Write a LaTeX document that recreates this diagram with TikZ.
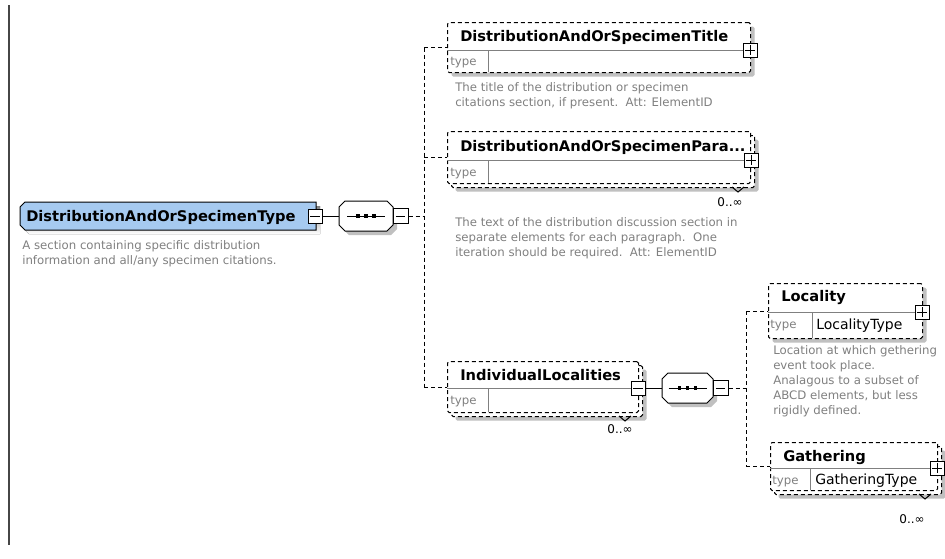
\documentclass[tikz,border=0pt]{standalone}
\usepackage{fontspec}
\setmainfont{DejaVu Sans}
\usetikzlibrary{shadows}

\definecolor{rootblue}{RGB}{166,202,240}
\definecolor{shade}{RGB}{192,192,192}
\definecolor{descgray}{RGB}{128,128,128}
\definecolor{sepgray}{RGB}{128,128,128}
\definecolor{framegray}{RGB}{70,70,70}

\newdimen\pxu \pxu=0.75pt
\newcommand\elemnamefont{\fontsize{11}{13}\selectfont\bfseries}
\newcommand\elemdescfont{\fontsize{8.8}{11.25}\selectfont}
\newcommand\elemtypefont{\fontsize{8.8}{11}\selectfont}
\newcommand\typenamefont{\fontsize{10.5}{12}\selectfont}
\newcommand\occurfont{\fontsize{9}{11}\selectfont}

% octagon outline: left, top, right, bottom, chamfer, path options
\newcommand\octapath[6]{%
  \path[#6] (#1+#5,#2) -- (#3-#5,#2) -- (#3,#2+#5) -- (#3,#4-#5) -- (#3-#5,#4)
    -- (#1+#5,#4) -- (#1,#4-#5) -- (#1,#2+#5) -- cycle;}

\begin{document}
\begin{tikzpicture}[x=0.75pt,y=-0.75pt,
  thinline/.style={draw=black, line width=0.75pt},
  dashedge/.style={draw=black, line width=0.75pt, dash pattern=on 3pt off 2.25pt},
  shadowed/.style={drop shadow={fill=shade, opacity=1, shadow xshift=3pt, shadow yshift=-3pt}},
  elembox/.style={dashedge, fill=white, rounded corners=1.2pt, inner sep=0pt, anchor=north west},
  sepline/.style={draw=sepgray, line width=0.75pt},
  btn/.style={draw=black, fill=white, line width=0.75pt, minimum size=10.5pt, inner sep=0pt},
  minusbtn/.style={btn, path picture={
      \draw[black, line width=0.75pt] ([xshift=-3.4pt]path picture bounding box.center)
        -- ([xshift=3.4pt]path picture bounding box.center);}},
  plusbtn/.style={btn, path picture={
      \draw[black, line width=0.75pt] ([xshift=-3.4pt]path picture bounding box.center)
        -- ([xshift=3.4pt]path picture bounding box.center)
        ([yshift=-3.4pt]path picture bounding box.center)
        -- ([yshift=3.4pt]path picture bounding box.center);}},
  seqnode/.style={rectangle, minimum height=22.5pt, inner sep=0pt,
      path picture={
      \draw[black, line width=0.75pt] ([xshift=-14.25pt]path picture bounding box.center)
        -- ([xshift=14.25pt]path picture bounding box.center);
      \foreach \dx in {-6,0,6}
        \fill[black] ([xshift=\dx pt]path picture bounding box.center)
          +(-1.2pt,-1.2pt) rectangle +(1.2pt,1.2pt);}},
  rootnode/.style={rectangle, minimum width=222pt, minimum height=21pt, inner sep=0pt},
  ename/.style={anchor=base west, inner sep=0pt, font=\elemnamefont},
  edesc/.style={anchor=north west, inner sep=0pt, align=left, font=\elemdescfont, text=descgray},
  etype/.style={anchor=base west, inner sep=0pt, font=\elemtypefont, text=descgray},
  tname/.style={anchor=base west, inner sep=0pt, font=\typenamefont},
  occur/.style={inner sep=0pt, font=\occurfont}
]
\fill[white] (0,0) rectangle (945,558);
\useasboundingbox (0,0) rectangle (945,558);

% left frame rule
\draw[draw=framegray, line width=1.5pt] (9,5) -- (9,545);

% ---------- root type ----------
\fill[shade] (29,206) -- (320,206) -- (320,234) -- (29,234) -- (24,229) -- (24,211) -- cycle;
\filldraw[fill=rootblue, draw=black, line width=0.75pt]
  (25,202) -- (316,202) -- (316,230) -- (25,230) -- (20,225) -- (20,207) -- cycle;
\node[rootnode] (root) at (168,216) {};
\node[ename] (rootname) at (26,221) {DistributionAndOrSpecimenType};
\node[minusbtn] (rootbtn) at (315,216) {};
\node[edesc] (rootdesc) at (22,240) {A section containing specific distribution\\information and all/any specimen citations.};

% ---------- first sequence ----------
\octapath{343}{205}{397}{235}{6}{fill=shade}
\octapath{339}{201}{393}{231}{6}{fill=white, draw=black, line width=0.75pt}
\node[seqnode, minimum width=40.5pt] (seq1) at (366,216) {};
\node[minusbtn, minimum size=11.25pt] (seq1btn) at (400.5,216) {};
\draw[thinline] (rootbtn.east) -- (seq1.west);
\coordinate (bus1) at (424,216);
\draw[dashedge] (seq1btn.east) -- (bus1);

% ---------- DistributionAndOrSpecimenTitle ----------
\node[elembox, shadowed, minimum width=303\pxu, minimum height=50\pxu] (title) at (447,22) {};
\draw[sepline] (447,50) -- (750,50);
\draw[sepline] (488,50) -- (488,72);
\node[ename] (titlename) at (460,41.5) {DistributionAndOrSpecimenTitle};
\node[etype] (titletype) at (450,65) {type};
\node[plusbtn] (titlebtn) at (750,50) {};
\node[edesc] (titledesc) at (455,82) {The title of the distribution or specimen\\citations section, if present.\ \ Att: ElementID};

% ---------- DistributionAndOrSpecimenPara... ----------
\node[elembox, shadowed, minimum width=303\pxu, minimum height=52\pxu] (parabk) at (451,135) {};
\node[elembox, minimum width=303\pxu, minimum height=52\pxu] (para) at (447,131) {};
\draw[sepline] (447,160) -- (750,160);
\draw[sepline] (488,160) -- (488,183);
\node[ename] (paraname) at (460,151) {DistributionAndOrSpecimenPara...};
\node[etype] (paratype) at (450,176) {type};
\node[plusbtn] (parabtn) at (751,160) {};
\draw[thinline] (732,187) -- (738,192) -- (744,187);
\node[occur] (paraocc) at (730,202) {0..∞};
\node[edesc] (paradesc) at (455,217) {The text of the distribution discussion section in\\separate elements for each paragraph.\ \ One\\iteration should be required.\ \ Att: ElementID};

% ---------- IndividualLocalities ----------
\node[elembox, shadowed, minimum width=191\pxu, minimum height=51\pxu] (indivbk) at (451,365) {};
\node[elembox, minimum width=191\pxu, minimum height=51\pxu] (indiv) at (447,361) {};
\draw[sepline] (447,388) -- (638,388);
\draw[sepline] (488,388) -- (488,412);
\node[ename] (indivname) at (460,380) {IndividualLocalities};
\node[etype] (indivtype) at (450,404) {type};
\node[minusbtn] (indivbtn) at (638,388) {};
\draw[thinline] (619,416) -- (625,421) -- (631,416);
\node[occur] (indivocc) at (620,429) {0..∞};

% connectors of the first sequence
\draw[dashedge] (bus1 |- title.west) -- (bus1 |- indiv.west);
\draw[dashedge] (bus1 |- title.west) -- (title.west);
\draw[dashedge] (bus1 |- para.west) -- (para.west);
\draw[dashedge] (bus1 |- indiv.west) -- (indiv.west);

% ---------- second sequence ----------
\octapath{666}{377}{717}{407}{6}{fill=shade}
\octapath{662}{373}{713}{403}{6}{fill=white, draw=black, line width=0.75pt}
\node[seqnode, minimum width=38.25pt] (seq2) at (687.5,388) {};
\node[minusbtn, minimum size=11.25pt] (seq2btn) at (720.5,388) {};
\draw[thinline] (indivbtn.east) -- (seq2.west);
\coordinate (bus2) at (746,388);
\draw[dashedge] (seq2btn.east) -- (bus2);

% ---------- Locality ----------
\node[elembox, shadowed, minimum width=154\pxu, minimum height=55\pxu] (loc) at (768,283) {};
\draw[sepline] (768,312) -- (922,312);
\draw[sepline] (812,312) -- (812,338);
\node[ename] (locname) at (781,301) {Locality};
\node[etype] (loctype) at (770,328) {type};
\node[tname] (loctn) at (816,329) {LocalityType};
\node[plusbtn] (locbtn) at (922,312) {};
\node[edesc] (locdesc) at (773,345) {Location at which gethering\\event took place.\\Analagous to a subset of\\ABCD elements, but less\\rigidly defined.};

% ---------- Gathering ----------
\node[elembox, shadowed, minimum width=167\pxu, minimum height=48\pxu] (gathbk) at (774,446) {};
\node[elembox, minimum width=167\pxu, minimum height=48\pxu] (gath) at (770,442) {};
\draw[sepline] (770,468) -- (937,468);
\draw[sepline] (810,468) -- (810,490);
\node[ename] (gathname) at (783,461) {Gathering};
\node[etype] (gathtype) at (772,484) {type};
\node[tname] (gathtn) at (815,484) {GatheringType};
\node[plusbtn] (gathbtn) at (937,468) {};
\draw[thinline] (919,494) -- (925,499) -- (931,494);
\node[occur] (gathocc) at (912,519) {0..∞};

% connectors of the second sequence
\draw[dashedge] (bus2 |- loc.west) -- (bus2 |- gath.west);
\draw[dashedge] (bus2 |- loc.west) -- (loc.west);
\draw[dashedge] (bus2 |- gath.west) -- (gath.west);
\end{tikzpicture}
\end{document}
